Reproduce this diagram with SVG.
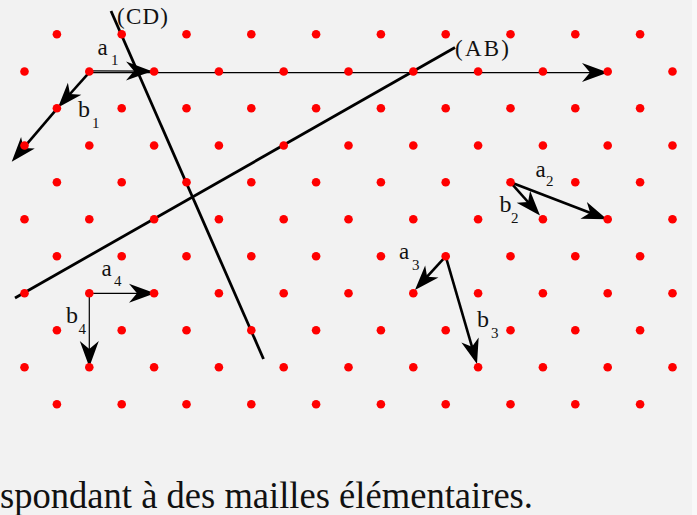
<svg xmlns="http://www.w3.org/2000/svg" xmlns:xlink="http://www.w3.org/1999/xlink" width="697" height="515" viewBox="0 0 697 515">
<style>
.bg{fill:#f2f2f2}
.dot{fill:#ff0000}
.thin{stroke:#000;stroke-width:1.2;fill:none}
.thick{stroke:#000;stroke-width:2.6;fill:none}
.plane{stroke:#000;stroke-width:2.8;fill:none}
</style>
<defs>
<marker id="hThin" markerUnits="userSpaceOnUse" markerWidth="1" markerHeight="1" refX="0" refY="0" orient="auto" overflow="visible">
<path d="M0,0 L-26,-9.5 L-18,0 L-26,9.5 Z" fill="#000"/>
</marker>
<marker id="hThick" markerUnits="userSpaceOnUse" markerWidth="1" markerHeight="1" refX="0" refY="0" orient="auto" overflow="visible">
<path d="M14,0 L-11,-9 L-4,0 L-11,9 Z" fill="#000"/>
</marker>
<g id="rowE">
<circle class="dot" cx="56.9" cy="0" r="4.3"/><circle class="dot" cx="121.7" cy="0" r="4.3"/><circle class="dot" cx="186.5" cy="0" r="4.3"/><circle class="dot" cx="251.3" cy="0" r="4.3"/><circle class="dot" cx="316.1" cy="0" r="4.3"/><circle class="dot" cx="380.9" cy="0" r="4.3"/><circle class="dot" cx="445.7" cy="0" r="4.3"/><circle class="dot" cx="510.5" cy="0" r="4.3"/><circle class="dot" cx="575.3" cy="0" r="4.3"/><circle class="dot" cx="640.1" cy="0" r="4.3"/>
</g>
<g id="rowO">
<circle class="dot" cx="24.5" cy="0" r="4.3"/><circle class="dot" cx="89.3" cy="0" r="4.3"/><circle class="dot" cx="154.1" cy="0" r="4.3"/><circle class="dot" cx="218.9" cy="0" r="4.3"/><circle class="dot" cx="283.7" cy="0" r="4.3"/><circle class="dot" cx="348.5" cy="0" r="4.3"/><circle class="dot" cx="413.3" cy="0" r="4.3"/><circle class="dot" cx="478.1" cy="0" r="4.3"/><circle class="dot" cx="542.9" cy="0" r="4.3"/><circle class="dot" cx="607.7" cy="0" r="4.3"/><circle class="dot" cx="672.5" cy="0" r="4.3"/>
</g>
</defs>
<rect class="bg" x="0" y="0" width="697" height="515"/>
<rect x="692" y="0" width="5" height="515" fill="#f8f8f8"/>

<g id="connectors">
<g id="plane-CD"><line class="plane" x1="111" y1="11" x2="263.5" y2="359"/></g>
<g id="plane-AB"><line class="plane" x1="15" y1="298" x2="455" y2="47.5"/></g>
<g id="axis"><line class="thin" x1="89.3" y1="72.6" x2="608" y2="72.6" marker-end="url(#hThin)"/></g>
<g id="vec-a1"><line class="thin" x1="89.3" y1="70.8" x2="152" y2="71.2" marker-end="url(#hThin)"/></g>
<g id="vec-b1"><line class="thick" x1="89.3" y1="72.3" x2="67.3" y2="97" marker-end="url(#hThick)"/>
<line class="thick" x1="57.3" y1="108.3" x2="20.8" y2="151.1" marker-end="url(#hThick)"/></g>
<g id="vec-a2"><line class="thick" x1="510.5" y1="182.3" x2="593.9" y2="214.3" marker-end="url(#hThick)"/></g>
<g id="vec-b2"><line class="thick" x1="510.5" y1="182.3" x2="530.7" y2="205" marker-end="url(#hThick)"/></g>
<g id="vec-a3"><line class="thick" x1="445.7" y1="256.3" x2="424.4" y2="279.6" marker-end="url(#hThick)"/></g>
<g id="vec-b3"><line class="thick" x1="445.7" y1="256.3" x2="473.1" y2="350.6" marker-end="url(#hThick)"/></g>
<g id="vec-a4"><line class="thin" x1="89.3" y1="293.3" x2="155" y2="293.3" marker-end="url(#hThin)"/></g>
<g id="vec-b4"><line class="thin" x1="89.3" y1="293.3" x2="89.3" y2="367" marker-end="url(#hThin)"/></g>
</g>

<g id="lattice">
<use xlink:href="#rowE" y="34.3"/>
<use xlink:href="#rowO" y="71.5"/>
<use xlink:href="#rowE" y="108.3"/>
<use xlink:href="#rowO" y="145.5"/>
<use xlink:href="#rowE" y="182.3"/>
<use xlink:href="#rowO" y="219.3"/>
<use xlink:href="#rowE" y="256.3"/>
<use xlink:href="#rowO" y="293.3"/>
<use xlink:href="#rowE" y="330.3"/>
<use xlink:href="#rowO" y="367.3"/>
<use xlink:href="#rowE" y="404.3"/>
</g>

<g id="labels" fill="#111">
<text font-family="Liberation Serif" font-size="23" x="117" y="24" textLength="51">(CD)</text>
<text font-family="Liberation Serif" font-size="23" x="455" y="56" textLength="54">(AB)</text>
<g id="lbl-a1"><text font-family="Liberation Serif" font-size="23" x="97.5" y="55">a</text><text font-family="Liberation Serif" font-size="15" x="111" y="65">1</text></g>
<g id="lbl-b1"><text font-family="Liberation Serif" font-size="24" x="78" y="117">b</text><text font-family="Liberation Serif" font-size="15" x="92" y="128.3">1</text></g>
<g id="lbl-a2"><text font-family="Liberation Serif" font-size="23" x="535.5" y="177">a</text><text font-family="Liberation Serif" font-size="15" x="546" y="186">2</text></g>
<g id="lbl-b2"><text font-family="Liberation Serif" font-size="24" x="499.5" y="211.7">b</text><text font-family="Liberation Serif" font-size="15" x="511" y="223">2</text></g>
<g id="lbl-a3"><text font-family="Liberation Serif" font-size="23" x="399" y="259.3">a</text><text font-family="Liberation Serif" font-size="15" x="412" y="270">3</text></g>
<g id="lbl-b3"><text font-family="Liberation Serif" font-size="24" x="477" y="326.7">b</text><text font-family="Liberation Serif" font-size="15" x="491" y="337.7">3</text></g>
<g id="lbl-a4"><text font-family="Liberation Serif" font-size="23" x="101.5" y="276">a</text><text font-family="Liberation Serif" font-size="15" x="114" y="285.7">4</text></g>
<g id="lbl-b4"><text font-family="Liberation Serif" font-size="24" x="66" y="322.7">b</text><text font-family="Liberation Serif" font-size="15" x="78.5" y="334">4</text></g>
<text font-family="Liberation Serif" font-size="38" x="0" y="508" textLength="533" lengthAdjust="spacingAndGlyphs">spondant à des mailles élémentaires.</text>
</g>
</svg>
